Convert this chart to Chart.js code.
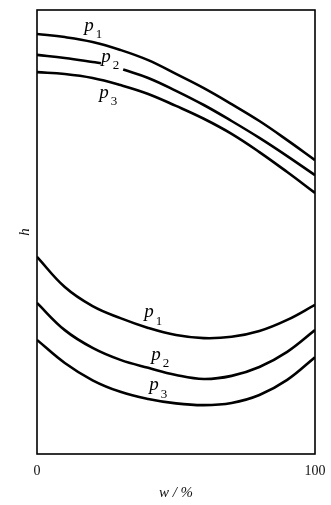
<!DOCTYPE html>
<html>
<head>
<meta charset="utf-8">
<script src="https://cdn.jsdelivr.net/npm/chart.js@4"></script>
<style>
  html, body { margin: 0; padding: 0; background: #fff; }
  #wrap { width: 331px; height: 505px; }
</style>
</head>
<body>
<div id="wrap"><canvas id="hChart" width="331" height="505"></canvas></div>
<script>
// w in %, h in relative units (0..100 of the plot height)
const wValues = [0, 10, 20, 30, 40, 50, 60, 70, 80, 90, 100];

// upper family
const upperP1 = [94.6, 93.9, 92.8, 91.0, 88.7, 85.6, 82.4, 78.8, 75.0, 70.7, 66.2];
const upperP3 = [86.0, 85.6, 84.7, 83.1, 81.1, 78.4, 75.5, 72.1, 68.0, 63.5, 58.8];
// p2 is broken where its label sits
const upperP2W = [0, 10, 20, 23, 27, 31, 40, 50, 60, 70, 80, 90, 100];
const upperP2 = [89.9, 89.2, 88.3, 88.0, null, 86.6, 84.7, 81.8, 78.6, 75.0, 71.2, 67.1, 62.8];

// lower family
const lowerP1 = [44.4, 37.6, 33.3, 30.6, 28.4, 26.8, 26.1, 26.4, 27.7, 30.2, 33.6];
const lowerP2 = [34.0, 27.9, 23.9, 21.2, 19.4, 17.8, 16.9, 17.6, 19.6, 23.0, 27.9];
const lowerP3 = [25.7, 20.5, 16.6, 14.0, 12.4, 11.4, 11.0, 11.5, 13.3, 16.7, 21.8];

const xTicks = [0, 100];

// curve labels: subscript + centre of the "p" in data units
const curveLabels = [
  { sub: '1', w: 18.7, h: 96.4 },
  { sub: '2', w: 24.8, h: 89.4 },
  { sub: '3', w: 24.1, h: 81.3 },
  { sub: '1', w: 40.3, h: 31.9 },
  { sub: '2', w: 42.8, h: 22.3 },
  { sub: '3', w: 42.1, h: 15.5 }
];

const pts = (xs, ys) => xs.map((x, i) => ({ x: x, y: ys[i] }));

const curve = (xs, ys) => ({
  data: pts(xs, ys),
  borderColor: '#000',
  borderWidth: 2.6,
  pointRadius: 0,
  fill: false,
  spanGaps: false,
  tension: 0.4
});

const serif = "'Liberation Serif', 'DejaVu Serif', serif";

// box around the plot area
const framePlugin = {
  id: 'frame',
  beforeDatasetsDraw(chart) {
    const { ctx, chartArea: a } = chart;
    ctx.save();
    ctx.strokeStyle = '#000';
    ctx.lineWidth = 1.6;
    ctx.strokeRect(a.left, a.top, a.right - a.left, a.bottom - a.top);
    ctx.restore();
  }
};

// p1 / p2 / p3 tags next to the curves
const labelPlugin = {
  id: 'curveLabels',
  afterDatasetsDraw(chart) {
    const { ctx, scales } = chart;
    ctx.save();
    ctx.fillStyle = '#000';
    ctx.textBaseline = 'middle';
    ctx.textAlign = 'center';
    curveLabels.forEach(l => {
      const px = scales.x.getPixelForValue(l.w);
      const py = scales.y.getPixelForValue(l.h);
      ctx.font = 'italic 19px ' + serif;
      ctx.fillText('p', px, py);
      ctx.font = '13px ' + serif;
      ctx.fillText(l.sub, px + 10, py + 9);
    });
    ctx.restore();
  }
};

new Chart(document.getElementById('hChart'), {
  type: 'line',
  data: {
    datasets: [
      curve(wValues, upperP1),
      curve(upperP2W, upperP2),
      curve(wValues, upperP3),
      curve(wValues, lowerP1),
      curve(wValues, lowerP2),
      curve(wValues, lowerP3)
    ]
  },
  options: {
    responsive: false,
    animation: false,
    layout: { padding: { top: 10, right: 16, left: 0, bottom: 0 } },
    plugins: {
      legend: { display: false },
      tooltip: { enabled: false }
    },
    scales: {
      x: {
        type: 'linear',
        min: 0,
        max: 100,
        grid: { display: false, drawTicks: false },
        border: { display: false },
        afterBuildTicks: s => { s.ticks = xTicks.map(v => ({ value: v })); },
        afterFit: s => {
          s.height = 51;
          // let the end labels hang past the plot edges
          s.paddingLeft = 0;
          s.paddingRight = 0;
        },
        ticks: {
          color: '#111',
          padding: 9,
          maxRotation: 0,
          font: { family: serif, size: 14 }
        },
        title: {
          display: true,
          text: 'w / %',
          color: '#111',
          padding: { top: 0, bottom: 3 },
          font: { family: serif, size: 15, style: 'italic' }
        }
      },
      y: {
        min: 0,
        max: 100,
        grid: { display: false, drawTicks: false },
        border: { display: false },
        ticks: { display: false },
        afterFit: s => { s.width = 37; },
        title: {
          display: true,
          text: 'h',
          color: '#111',
          padding: { top: 16, bottom: 0 },
          font: { family: serif, size: 15, style: 'italic' }
        }
      }
    }
  },
  plugins: [framePlugin, labelPlugin]
});
</script>
</body>
</html>
